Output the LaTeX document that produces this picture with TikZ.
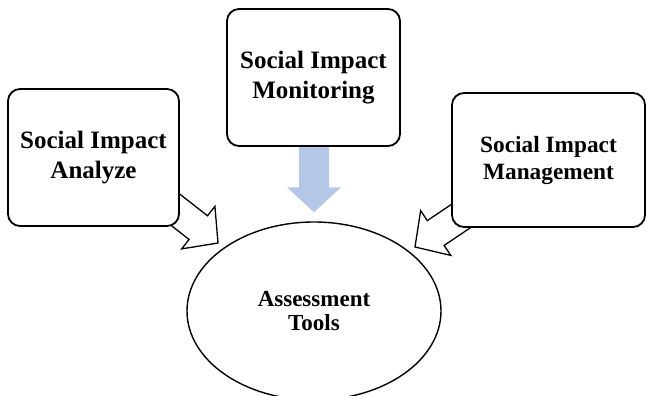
\documentclass[tikz,border=0pt]{standalone}
\usepackage{fontspec}
\setmainfont{Liberation Serif}
\usetikzlibrary{shapes.geometric,calc}
\definecolor{flowblue}{RGB}{180,199,231}
\tikzset{
  topic/.style={draw, line width=1.8pt, rounded corners=12pt, fill=white,
    align=center, inner sep=0pt, font=\fontsize{25}{30}\selectfont\bfseries},
  tool/.style={draw, ellipse, line width=1.4pt, fill=white, align=center,
    inner sep=0pt, minimum width=254pt, minimum height=178pt,
    font=\fontsize{23}{23.5}\selectfont\bfseries},
  pics/fatarrow/.style={code={
    \path[pic actions] (-90pt,-15pt) -- (-25pt,-15pt) -- (-25pt,-27pt) -- (0pt,0pt)
      -- (-25pt,27pt) -- (-25pt,15pt) -- (-90pt,15pt) -- cycle;}}
}
\begin{document}
\begin{tikzpicture}[x=1pt,y=1pt]
    \useasboundingbox (0,0) rectangle (646,-396);
    % centre
    \node[tool] (tools) at (314,-311) {Assessment\\Tools};

    % arrow tips
    \coordinate (tipA) at ($(tools.center)+(-96,68)$);
    \coordinate (tipM) at ($(tools.north)+(0,9)$);
    \coordinate (tipB) at ($(tools.center)+(101,64)$);

    \pic[draw, fill=white, line width=1.3pt, rotate=-38] at (tipA) {fatarrow};
    \pic[fill=flowblue, rotate=-90] at (tipM) {fatarrow};
    \pic[draw, fill=white, line width=1.3pt, rotate=-146] at (tipB) {fatarrow};

    % boxes
    \node[topic, minimum width=171pt, minimum height=137pt] (ana) at (93.5,-157.5)
        {Social Impact\\Analyze};
    \node[topic, minimum width=173pt, minimum height=137pt] (mon) at (313.5,-77.5)
        {Social Impact\\Monitoring};
    \node[topic, minimum width=193pt, minimum height=134pt,
        font=\fontsize{23.3}{27}\selectfont\bfseries] (man) at (548.5,-160)
        {Social Impact\\Management};
\end{tikzpicture}
\end{document}
